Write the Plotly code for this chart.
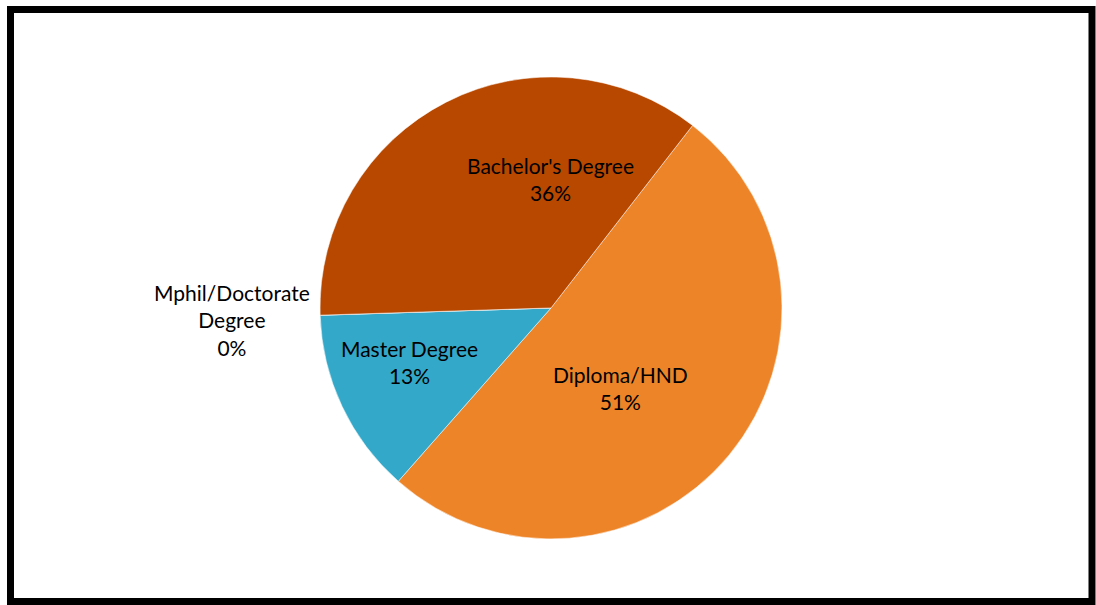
import plotly.graph_objects as go

labels = ["Diploma/HND", "Master Degree", "Mphil/Doctorate<br>Degree", "Bachelor's Degree"]
values = [51, 13, 0.01, 36]
colors = ["#EE8428", "#34A8C8", "#B84800", "#B84800"]
# label anchor points (pixels in the 1096x605 canvas)
label_px = [(620, 388), (409, 362), (232, 320), (550, 179)]

W, H = 1096, 605
pct = [v / sum(values) for v in values]

fig = go.Figure(go.Pie(
    labels=labels,
    values=values,
    sort=False,
    direction="clockwise",
    rotation=37.8,
    marker=dict(colors=colors, line=dict(color="rgba(255,255,255,0.5)", width=1)),
    textinfo="none",
    showlegend=False,
    hoverinfo="label+percent",
    domain=dict(x=[0.292, 0.7135], y=[0.109, 0.873]),
))

for lab, p, pos in zip(labels, pct, label_px):
    fig.add_annotation(
        x=pos[0] / W, y=1 - pos[1] / H, xref="paper", yref="paper",
        text=f"{lab}<br>{p:.0%}", showarrow=False,
        font=dict(family="Lato", size=21, color="black"),
        align="center", xanchor="center", yanchor="middle",
    )

fig.add_shape(type="rect", xref="paper", yref="paper",
              x0=10.5 / W, x1=1092 / W, y0=1 - 601.5 / H, y1=1 - 9.5 / H,
              line=dict(color="black", width=7))

fig.update_layout(
    width=W, height=H,
    margin=dict(l=0, r=0, t=0, b=0),
    paper_bgcolor="white", plot_bgcolor="white",
)

fig.write_html("out.html")
